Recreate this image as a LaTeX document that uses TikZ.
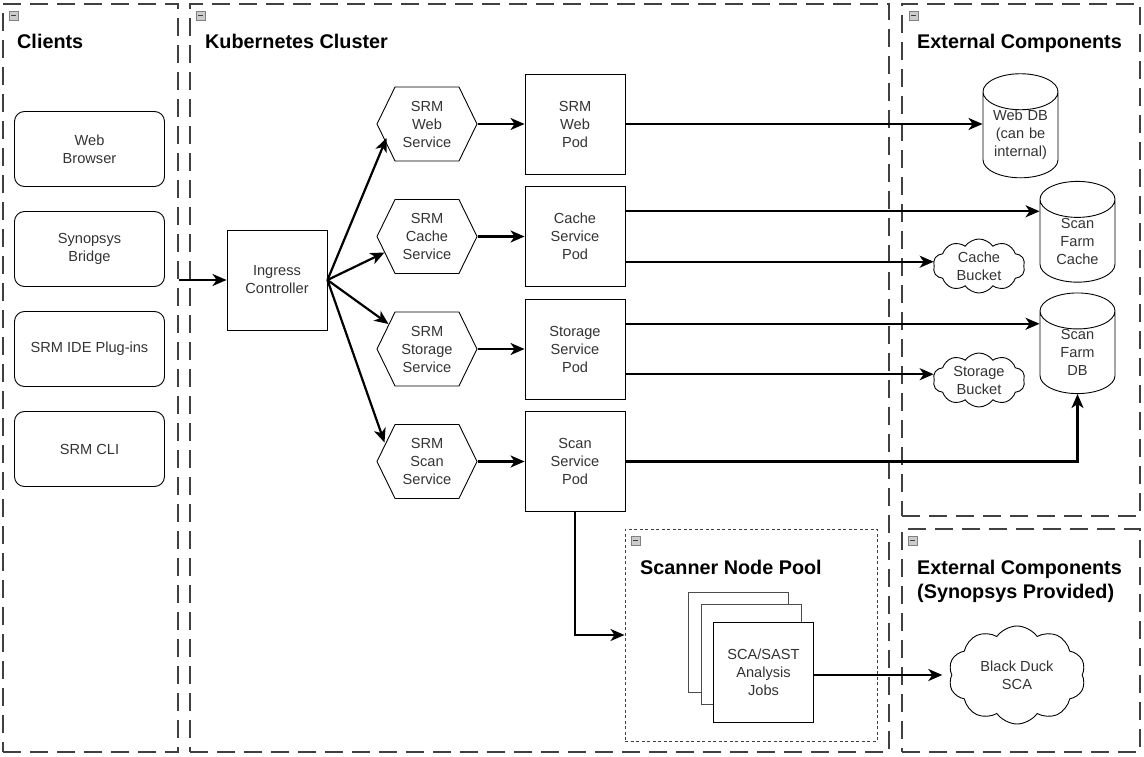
\documentclass[tikz,border=0pt]{standalone}
\usepackage{fontspec}
\setmainfont{Liberation Sans}
\usetikzlibrary{calc,arrows.meta,shapes.geometric,shapes.symbols}
\tikzset{
	grp/.style={draw=black!75, line width=1.2pt, dash pattern=on 18pt off 9pt, inner sep=0pt},
	poolbox/.style={draw=black!75, line width=1pt, dash pattern=on 3pt off 2.5pt, inner sep=0pt},
	ttl/.style={anchor=base west, inner sep=0pt, align=left, font=\bfseries\fontsize{19.8}{24.5}\selectfont},
	lbl/.style={align=center, text=black!80, font=\fontsize{14.6}{18}\selectfont},
	client/.style={lbl, draw, line width=0.9pt, rounded corners=10pt, minimum width=150pt, minimum height=75pt},
	box/.style={lbl, draw, line width=0.9pt, fill=white, minimum width=100pt, minimum height=100pt},
	hexa/.style={lbl, draw, line width=0.9pt, signal, signal to=east and west, signal pointer angle=128, inner sep=0pt, minimum width=100pt, minimum height=74pt},
	db/.style={lbl, draw, line width=0.9pt, cylinder, shape border rotate=90, aspect=0.6, text width=60pt, inner sep=0pt, minimum width=75pt, minimum height=100pt},
	bucket/.style={lbl, draw, line width=0.9pt, cloud, cloud puffs=10, cloud puff arc=110, aspect=1.7, inner sep=0pt},
	arr/.style={-{Stealth[length=14pt,width=12pt,inset=4pt]}, line width=2.2pt}
}
\newcommand\foldicon[1]{\draw[black!50, fill=black!20] (#1) rectangle ++(9,9);
	\draw[black!75, line width=1pt] ($(#1)+(2,4.5)$) -- ++(5,0);}

\begin{document}
\begin{tikzpicture}[x=1pt,y=-1pt]
	\useasboundingbox (0,0) rectangle (1144,757);
	% groups
	\node[grp, minimum width=175pt, minimum height=748pt] (clients) at (90.5,378) {};
	\node[grp, minimum width=699pt, minimum height=748pt] (kube) at (539.5,378) {};
	\node[grp, minimum width=238pt, minimum height=512pt] (ext) at (1021,260) {};
	\node[grp, minimum width=238pt, minimum height=223pt] (synp) at (1021,640.5) {};
	\node[poolbox, minimum width=252pt, minimum height=212pt] (pool) at (751,635) {};
	\foreach \p in {{9,11},{196,11},{909,11},{631,536},{908,536}}
	{\foldicon{\p}}
	\node[ttl] (tclients) at (17,49) {Clients};
	\node[ttl] (tkube) at (205,49) {Kubernetes Cluster};
	\node[ttl] (text) at (917,49) {External Components};
	\node[ttl] (tpool) at (640,574) {Scanner Node Pool};
	\node[ttl] (tsynp) at (917,598.5) {External Components\\(Synopsys Provided)};
	% clients
	\foreach \n/\y/\t in {browser/149/{Web\\Browser}, bridge/249/{Synopsys\\Bridge}, ide/349/{SRM IDE Plug-ins}, cli/449/{SRM CLI}}
	{\node[client] (\n) at (89.5,\y) {\t};}
	\node[box] (ingress) at (277,280) {Ingress\\Controller};
	% services and pods
	\foreach \n/\y/\dx/\dy/\s/\p in {web/124/10/14/{SRM\\Web\\Service}/{SRM\\Web\\Pod},
		cache/236.5/8/16/{SRM\\Cache\\Service}/{Cache\\Service\\Pod},
		storage/349/12/-25/{SRM\\Storage\\Service}/{Storage\\Service\\Pod},
		scan/461.5/8/-19/{SRM\\Scan\\Service}/{Scan\\Service\\Pod}}
	{\node[hexa] (\n svc) at (427,\y) {\s};
		\node[box] (\n pod) at (575,\y) {\p};
		\draw[arr] (ingress.east) -- ($(\n svc.west)+(\dx,\dy)$);
		\draw[arr] (\n svc.east) -- (\n pod.west);
	}
	% external
	\node[db] (webdb) at (1020.5,135) {Web DB\\(can be\\internal)};
	\node[db] (sfcache) at (1077.5,241) {Scan\\Farm\\Cache};
	\node[db] (sfdb) at (1077.5,352.5) {Scan\\Farm\\DB};
	\node[bucket, minimum width=92pt, minimum height=54pt] (cachebkt) at (979,266) {Cache\\Bucket};
	\node[bucket, minimum width=92pt, minimum height=54pt] (storbkt) at (979,380) {Storage\\Bucket};
	\node[bucket, minimum width=137pt, minimum height=98pt] (duck) at (1017,675) {Black Duck\\SCA};
	% scanner jobs
	\node[box, draw=black!70] (job3) at (738,642) {};
	\node[box, draw=black!70] (job2) at (751,654) {};
	\node[box] (job1) at (763.5,672.5) {SCA/SAST\\Analysis\\Jobs};
	% connectors
	\draw[arr] (clients.east |- ingress.west) -- (ingress.west);
	\draw[arr] (webpod.east) -- (webpod.east -| webdb.west);
	\coordinate (c1) at ($(cachepod.north east)!.25!(cachepod.south east)$);
	\coordinate (c2) at ($(cachepod.north east)!.75!(cachepod.south east)$);
	\coordinate (s1) at ($(storagepod.north east)!.25!(storagepod.south east)$);
	\coordinate (s2) at ($(storagepod.north east)!.75!(storagepod.south east)$);
	\draw[arr] (c1) -- (c1 -| sfcache.west);
	\draw[arr] (c2) -- (c2 -| cachebkt.west);
	\draw[arr] (s1) -- (s1 -| sfdb.west);
	\draw[arr] (s2) -- (s2 -| storbkt.west);
	\draw[arr] (scanpod.east) -| (sfdb.south);
	\draw[arr] (scanpod.south) |- (pool.west);
	\draw[arr, shorten >=9pt] (job1.east |- duck.west) -- (duck.west);
\end{tikzpicture}
\end{document}
